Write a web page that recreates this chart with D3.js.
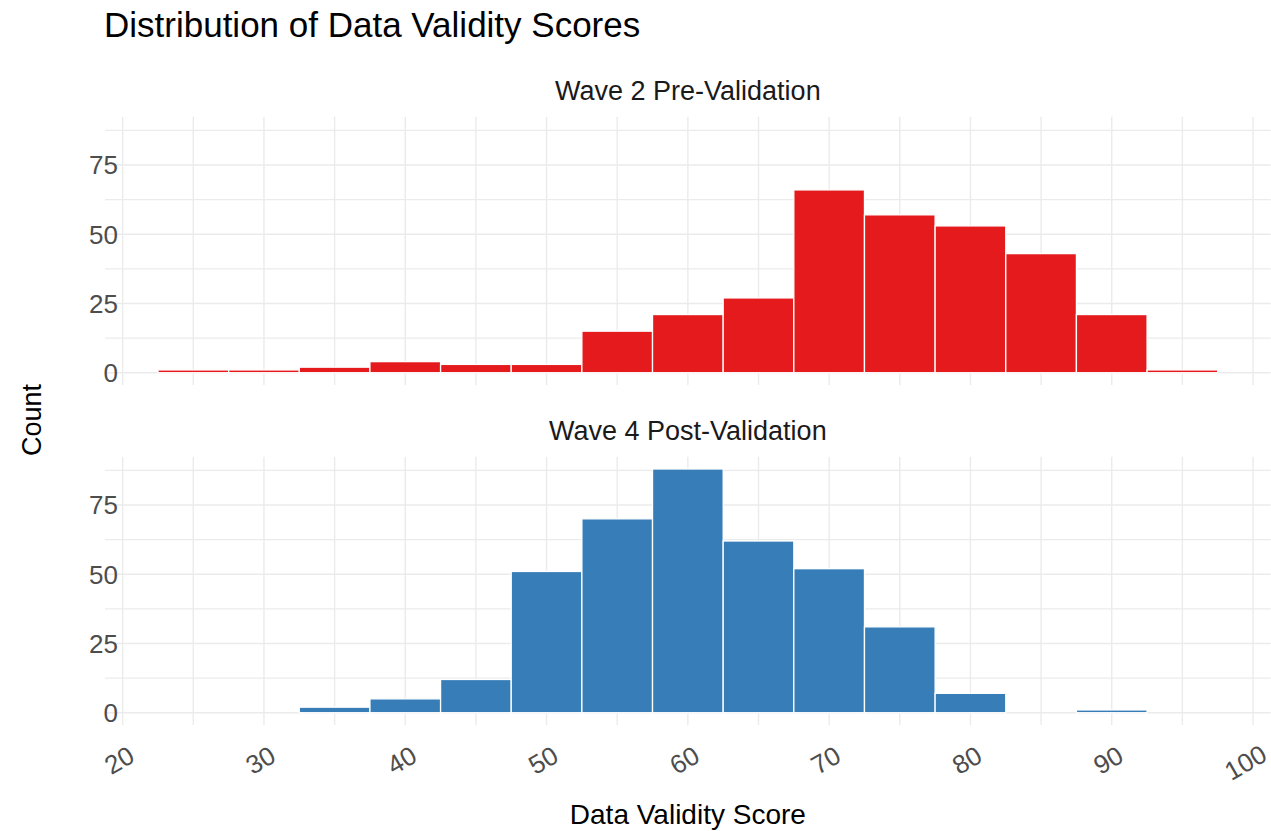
<!DOCTYPE html>
<meta charset="utf-8">
<head>
<title>Distribution of Data Validity Scores</title>
<style>
  body { margin: 0; background: white; }
  text { font-family: "Liberation Sans", Arial, sans-serif; }
</style>
</head>
<body>
<div id="chart"></div>
<script src="https://cdn.jsdelivr.net/npm/d3@7"></script>
<script>

// histogram bins (binwidth 5, centred on these scores)
var binCenters = [25, 30, 35, 40, 45, 50, 55, 60, 65, 70, 75, 80, 85, 90, 95];
var wave2Counts = [1, 1, 2, 4, 3, 3, 15, 21, 27, 66, 57, 53, 43, 21, 1];
var wave4Counts = [0, 0, 2, 5, 12, 51, 70, 88, 62, 52, 31, 7, 0, 1, 0];
var panelNames = ["Wave 2 Pre-Validation", "Wave 4 Post-Validation"];
var panelColors = ["#E41A1C", "#377EB8"];
var xTicks = [20, 30, 40, 50, 60, 70, 80, 90, 100];
var xMinor = [25, 35, 45, 55, 65, 75, 85, 95];
var yTicks = [0, 25, 50, 75];
var yMinor = [12.5, 37.5, 62.5, 87.5];
var binWidth = 5;

var width = 1271, height = 831;
var left = 105, right = 1270.7;
var panelTops = [116.8, 456.8], panelHeight = 268.1;

var svg = d3.select("#chart")
  .append("svg")
    .attr("width", width)
    .attr("height", height);

var x = d3.scaleLinear()
  .domain([18.75, 101.25])
  .range([left, right]);

var maxCount = d3.max(wave2Counts.concat(wave4Counts));

var allCounts = [wave2Counts, wave4Counts];

allCounts.forEach(function(counts, p) {
  var y = d3.scaleLinear()
    .domain([-0.05 * maxCount, 1.05 * maxCount])
    .range([panelTops[p] + panelHeight, panelTops[p]]);

  var g = svg.append("g");

  // grid
  g.selectAll(".hminor").data(yMinor).enter().append("line")
    .attr("x1", left).attr("x2", right)
    .attr("y1", function(d) { return y(d); })
    .attr("y2", function(d) { return y(d); })
    .attr("stroke", "#EBEBEB").attr("stroke-width", 1.3);
  g.selectAll(".hmajor").data(yTicks).enter().append("line")
    .attr("x1", left).attr("x2", right)
    .attr("y1", function(d) { return y(d); })
    .attr("y2", function(d) { return y(d); })
    .attr("stroke", "#EBEBEB").attr("stroke-width", 1.5);
  g.selectAll(".vgrid").data(xTicks.concat(xMinor)).enter().append("line")
    .attr("y1", panelTops[p]).attr("y2", panelTops[p] + panelHeight)
    .attr("x1", function(d) { return x(d); })
    .attr("x2", function(d) { return x(d); })
    .attr("stroke", "#EBEBEB").attr("stroke-width", 1.4);

  // bars
  g.selectAll(".bar").data(binCenters).enter().append("rect")
    .attr("x", function(d) { return x(d - binWidth / 2); })
    .attr("width", function(d) { return x(d + binWidth / 2) - x(d - binWidth / 2); })
    .attr("y", function(d, i) { return y(counts[i]); })
    .attr("height", function(d, i) { return y(0) - y(counts[i]); })
    .attr("fill", panelColors[p])
    .attr("stroke", "white")
    .attr("stroke-width", 1.3);

  // y tick labels
  g.selectAll(".ylab").data(yTicks).enter().append("text")
    .attr("x", 118)
    .attr("y", function(d) { return y(d); })
    .attr("dy", "0.36em")
    .attr("text-anchor", "end")
    .style("font-size", "26px")
    .style("fill", "#4D4D4D")
    .text(function(d) { return d; });

  // strip label
  g.append("text")
    .attr("x", (left + right) / 2)
    .attr("y", panelTops[p] - 16.8)
    .attr("text-anchor", "middle")
    .style("font-size", "27px")
    .style("fill", "#1A1A1A")
    .text(panelNames[p]);
});

// x tick labels, rotated 30 degrees (hjust about 0.83)
svg.selectAll(".xlab").data(xTicks).enter().append("text")
  .attr("dy", "0.72em")
  .style("font-size", "26px")
  .style("fill", "#4D4D4D")
  .text(function(d) { return d; })
  .each(function(d) {
    var w = this.getComputedTextLength();
    d3.select(this)
      .attr("x", -0.83 * w)
      .attr("transform", "translate(" + x(d) + ",747) rotate(-30)");
  });

svg.append("text")
  .attr("x", (left + right) / 2)
  .attr("y", 824)
  .attr("text-anchor", "middle")
  .style("font-size", "28px")
  .style("fill", "black")
  .text("Data Validity Score");

svg.append("text")
  .attr("text-anchor", "middle")
  .attr("transform", "translate(41,420) rotate(-90)")
  .style("font-size", "27px")
  .style("fill", "black")
  .text("Count");

svg.append("text")
  .attr("x", 104)
  .attr("y", 37)
  .style("font-size", "35px")
  .style("fill", "black")
  .text("Distribution of Data Validity Scores");

</script>
</body>
